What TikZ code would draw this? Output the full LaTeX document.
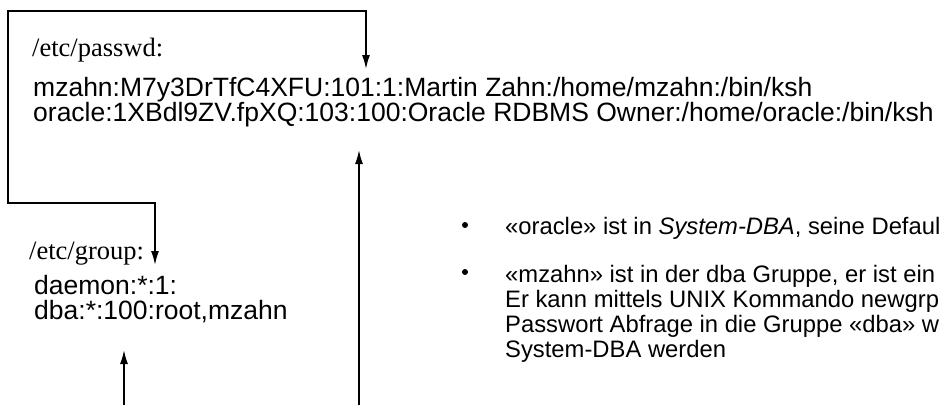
\documentclass[tikz,border=0pt]{standalone}
\usepackage{fontspec}
\setmainfont{Liberation Sans}
\newfontfamily\tmsfont{Liberation Serif}
\usetikzlibrary{arrows.meta}

\begin{document}
\begin{tikzpicture}[x=1pt, y=-1pt,
  lbl/.style={font=\tmsfont\fontsize{26.5}{28}\selectfont, anchor=base west, inner sep=0pt},
  rec/.style={font=\fontsize{26.5}{25}\selectfont, anchor=base west, inner sep=0pt},
  bul/.style={font=\fontsize{23.8}{25}\selectfont, anchor=base west, inner sep=0pt},
  dot/.style={circle, fill=black, inner sep=0pt, minimum size=6pt},
  lnk/.style={line width=1.6pt},
  ptr/.style={lnk, -{Latex[length=14pt, width=8pt]}},
  dptr/.style={lnk, {Latex[length=14pt, width=8pt]}-{Latex[length=14pt, width=8pt]}}
]
\useasboundingbox (0,0) rectangle (940,405);
\clip (0,0) rectangle (940,405);

% ---- /etc/passwd ---------------------------------------------------------
\node[lbl] (pwlbl) at (32,56) {/etc/passwd:};
\node[rec] (pwmz) at (33,96) {mzahn:M7y3DrTfC4XFU:101:1:Martin Zahn:/home/mzahn:/bin/ksh};
\node[rec] (pwora) at (33,121) {oracle:1XBdl9ZV.fpXQ:103:100:Oracle RDBMS Owner:/home/oracle:/bin/ksh};

% ---- /etc/group ----------------------------------------------------------
\node[lbl] (grlbl) at (29,259) {/etc/group:};
\node[rec] (grdae) at (34,294) {daemon:*:1:};
\node[rec] (grdba) at (34,319) {dba:*:100:root,mzahn};

% ---- Verweise ------------------------------------------------------------
\coordinate (ul) at (8,11);
\coordinate (ll) at (8,203);
\coordinate (pwhit) at (366,69);
\coordinate (grhit) at (155,265);
\coordinate (gidhit) at (359,150);
\coordinate (gidfoot) at (359,405);
\coordinate (dbahit) at (124,350);
\coordinate (dbafoot) at (124,405);
\draw[dptr] (pwhit) -- (pwhit |- ul) -- (ul) -- (ll) -- (ll -| grhit) -- (grhit);
\draw[ptr] (gidfoot) -- (gidhit);
\draw[ptr] (dbafoot) -- (dbahit);

% ---- Bemerkungen ---------------------------------------------------------
\node[dot] (b1) at (465,225) {};
\node[bul] (t1) at (505,234) {«oracle» ist in \textit{System-DBA}, seine Defaul};
\node[dot] (b2) at (465,272) {};
\node[bul] (t2) at (505,282) {«mzahn» ist in der dba Gruppe, er ist ein};
\node[bul] (t3) at (505,307) {Er kann mittels UNIX Kommando newgrp};
\node[bul] (t4) at (505,332) {Passwort Abfrage in die Gruppe «dba» w};
\node[bul] (t5) at (505,357) {System-DBA werden};
\end{tikzpicture}
\end{document}
